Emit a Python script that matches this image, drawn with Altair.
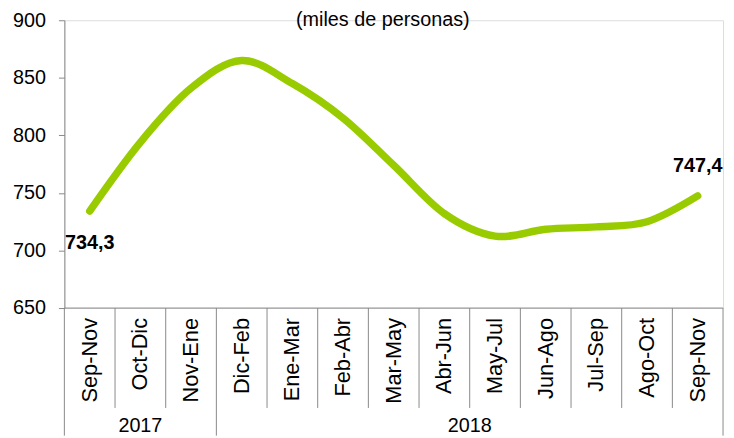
import altair as alt
import pandas as pd

periods = ["Sep-Nov", "Oct-Dic", "Nov-Ene", "Dic-Feb", "Ene-Mar", "Feb-Abr", "Mar-May",
           "Abr-Jun", "May-Jul", "Jun-Ago", "Jul-Sep", "Ago-Oct", "Sep-Nov"]
values = [734.3, 794.0, 841.0, 865.0, 845.0, 815.0, 774.0, 732.0, 712.5, 718.5, 720.5, 725.0, 747.4]
years = ["2017", "2018"]
year_start = [0, 3]
year_end = [3, 13]
y_ticks = [650, 700, 750, 800, 850, 900]

FONT = "Liberation Sans"
GREEN = "#99CC00"
GRAY = "#898989"

n = len(periods)
df = pd.DataFrame({"pos": [i + 0.5 for i in range(n)], "periodo": periods, "valor": values})
df["etiqueta"] = [f"{v:.1f}".replace(".", ",") for v in values]

sep_short = pd.DataFrame({"pos": [i for i in range(n + 1) if i not in year_start + year_end]})
sep_long = pd.DataFrame({"pos": sorted(set(year_start + year_end))})
axis_line = pd.DataFrame({"a": [0], "b": [n]})
year_df = pd.DataFrame({"pos": [(s + e) / 2 for s, e in zip(year_start, year_end)], "anio": years})

xs = alt.Scale(domain=[0, n], nice=False, zero=False)
ys = alt.Scale(domain=[650, 900], nice=False, zero=False)

line = alt.Chart(df).mark_line(color=GREEN, strokeWidth=7.5, strokeCap="round",
                               strokeJoin="round", interpolate="cardinal").encode(
    x=alt.X("pos:Q", scale=xs, axis=None),
    y=alt.Y("valor:Q", scale=ys, axis=alt.Axis(
        values=y_ticks, tickSize=6, tickColor=GRAY, domainColor=GRAY, labelFontSize=20,
        labelFont=FONT, labelColor="black", labelPadding=13, grid=False, title=None,
        labelOverlap=False, labelFlush=False)),
)

xline = alt.Chart(axis_line).mark_rule(color=GRAY, strokeWidth=1).encode(
    x=alt.X("a:Q", scale=xs, axis=None), x2="b:Q", y=alt.value(291))

short_rules = alt.Chart(sep_short).mark_rule(color=GRAY, strokeWidth=1).encode(
    x=alt.X("pos:Q", scale=xs, axis=None), y=alt.value(291), y2=alt.value(392))
long_rules = alt.Chart(sep_long).mark_rule(color=GRAY, strokeWidth=1).encode(
    x=alt.X("pos:Q", scale=xs, axis=None), y=alt.value(291), y2=alt.value(420))

cat_labels = alt.Chart(df).mark_text(angle=270, align="right", baseline="middle",
                                     fontSize=22, font=FONT, color="black").encode(
    x=alt.X("pos:Q", scale=xs, axis=None), y=alt.value(301), text="periodo:N")

year_labels = alt.Chart(year_df).mark_text(baseline="middle", fontSize=20, font=FONT,
                                           color="black").encode(
    x=alt.X("pos:Q", scale=xs, axis=None), y=alt.value(410), text="anio:N")

first_lbl = alt.Chart(df.iloc[[0]]).mark_text(fontWeight="bold", fontSize=20, font=FONT,
                                              color="black", dy=32).encode(
    x=alt.X("pos:Q", scale=xs, axis=None), y=alt.Y("valor:Q", scale=ys), text="etiqueta:N")
last_lbl = alt.Chart(df.iloc[[n - 1]]).mark_text(fontWeight="bold", fontSize=20, font=FONT,
                                                 color="black", dy=-30).encode(
    x=alt.X("pos:Q", scale=xs, axis=None), y=alt.Y("valor:Q", scale=ys), text="etiqueta:N")

chart = alt.layer(short_rules, long_rules, xline, line, cat_labels, year_labels,
                  first_lbl, last_lbl).properties(
    width=666, height=291,
    title=alt.TitleParams("(miles de personas)", font=FONT, fontSize=20, fontWeight="normal",
                          color="black", offset=-20, dx=-11, anchor="middle"),
    autosize=alt.AutoSizeParams(type="none"),
    padding={"left": 57, "top": 10, "right": 3, "bottom": 129},
).configure_view(stroke=None).configure(background="white")

chart.save("out.html", embed_options={"renderer": "svg", "actions": False})
